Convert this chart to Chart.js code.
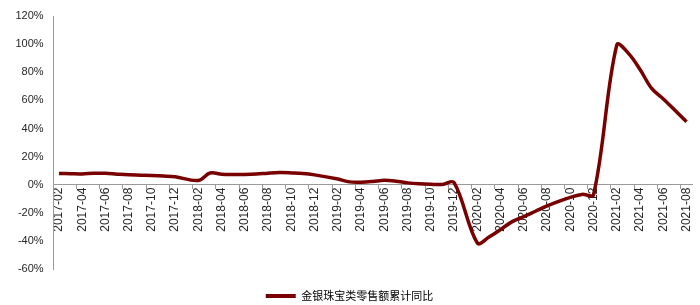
<!DOCTYPE html>
<html><head><meta charset="utf-8">
<script src="https://cdn.jsdelivr.net/npm/chart.js@4/dist/chart.umd.min.js"></script>
<style>html,body{margin:0;padding:0;background:#fff}#wrap{width:700px;height:305px;position:relative}</style>
</head><body><div id="wrap"><canvas id="c"></canvas></div>
<script>
const categories = [
  '2017-02','2017-03','2017-04','2017-05','2017-06','2017-07','2017-08','2017-09','2017-10','2017-11','2017-12',
  '2018-01','2018-02','2018-03','2018-04','2018-05','2018-06','2018-07','2018-08','2018-09','2018-10','2018-11','2018-12',
  '2019-01','2019-02','2019-03','2019-04','2019-05','2019-06','2019-07','2019-08','2019-09','2019-10','2019-11','2019-12',
  '2020-01','2020-02','2020-03','2020-04','2020-05','2020-06','2020-07','2020-08','2020-09','2020-10','2020-11','2020-12',
  '2021-01','2021-02','2021-03','2021-04','2021-05','2021-06','2021-07','2021-08'
];
const seriesName = '金银珠宝类零售额累计同比';
const seriesValues = [
  8.0, 7.8, 7.7, 8.2, 8.1, 7.5, 7.0, 6.8, 6.6, 6.2, 5.6,
  null, 3.0, 8.3, 7.5, 7.3, 7.3, 7.6, 8.2, 8.6, 8.4, 8.0, 7.0,
  null, 4.0, 2.0, 1.8, 2.3, 3.1, 2.5, 1.3, 0.6, 0.3, 0.2, 1.5,
  null, -41.5, -37.3, -31.9, -26.3, -22.7, -18.9, -15.1, -11.8, -9.0, -6.9, -7.0,
  null, 99.5, 93.5, 82.0, 68.5, 61.0, 53.0, 44.8
];
const yTickValues = [-60, -40, -20, 0, 20, 40, 60, 80, 100, 120];

const lineColor = '#780000';
const axisColor = '#9a9a9a';
const textColor = '#262626';

new Chart(document.getElementById('c'), {
  type: 'line',
  data: {
    labels: categories,
    datasets: [{
      label: seriesName,
      data: seriesValues,
      borderColor: lineColor,
      backgroundColor: lineColor,
      borderWidth: 3.5,
      pointRadius: 0,
      tension: 0.35,
      spanGaps: true,
      fill: false
    }]
  },
  options: {
    responsive: true,
    maintainAspectRatio: false,
    animation: false,
    layout: { padding: { top: 10, left: 6, right: 7, bottom: -6.5 } },
    plugins: {
      tooltip: { enabled: false },
      legend: {
        position: 'bottom',
        labels: {
          boxWidth: 30,
          boxHeight: 4,
          padding: 21.5,
          color: '#1a1a1a',
          font: { size: 11, family: '"Noto Sans CJK SC", "Liberation Sans", sans-serif' },
          generateLabels: () => [{
            text: seriesName, fillStyle: lineColor, strokeStyle: lineColor,
            lineWidth: 0, hidden: false, datasetIndex: 0
          }]
        }
      }
    },
    scales: {
      x: {
        type: 'category',
        position: { y: 0 },
        offset: true,
        grid: {
          display: true,
          drawOnChartArea: false,
          drawTicks: true,
          tickLength: 4,
          offset: true,
          color: ctx => (ctx.index % 2 === 0 ? axisColor : 'rgba(0,0,0,0)')
        },
        border: { display: true, color: axisColor, width: 1 },
        ticks: {
          autoSkip: false,
          minRotation: 90,
          maxRotation: 90,
          padding: -1,
          color: textColor,
          font: { size: 12, family: '"Liberation Sans", Arial, sans-serif' },
          callback: (v, i) => (i % 2 === 0 ? categories[i] : '')
        }
      },
      y: {
        min: -60,
        max: 120,
        grid: { display: false, drawTicks: false },
        border: { display: true, color: axisColor, width: 1 },
        afterBuildTicks: s => { s.ticks = yTickValues.map(v => ({ value: v })); },
        ticks: {
          padding: 9.5,
          color: textColor,
          font: { size: 11, family: '"Liberation Sans", Arial, sans-serif' },
          callback: v => v + '%'
        }
      }
    }
  }
});
</script>
</body></html>
